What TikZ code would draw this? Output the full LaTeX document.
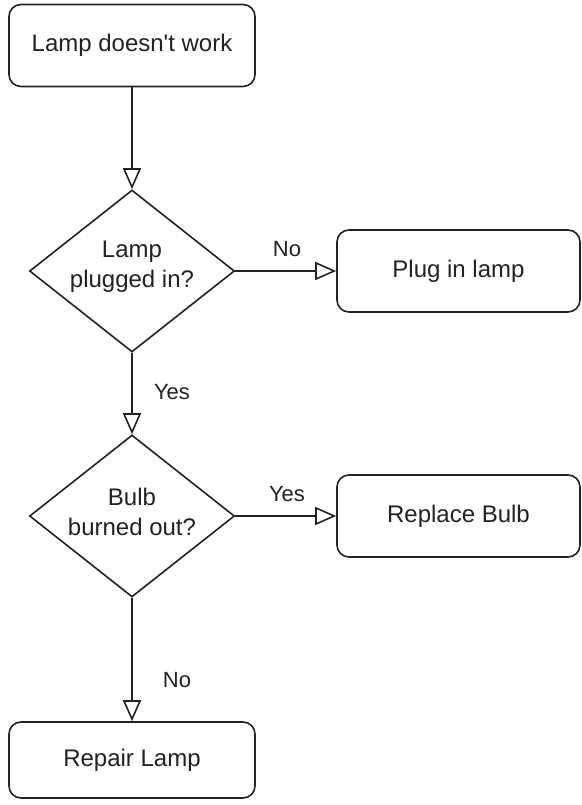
\documentclass[tikz,border=0pt]{standalone}
\usepackage{fontspec}
% a family without TeX ligatures keeps the apostrophe straight
\newfontfamily\plainsans{Liberation Sans}
\usetikzlibrary{shapes.geometric,arrows.meta}
\definecolor{ink}{HTML}{222222}
\begin{document}
\begin{tikzpicture}[x=1pt,y=-1pt,
  every node/.style={text=ink},
  procbox/.style={draw=ink, line width=1.6pt, rounded corners=12pt, inner sep=0pt,
    minimum width=246pt, minimum height=82pt, font=\plainsans\fontsize{24}{29}\selectfont},
  decision/.style={draw=ink, line width=1.6pt, diamond, inner sep=0pt,
    minimum width=205pt, minimum height=162pt},
  qtext/.style={align=center, font=\plainsans\fontsize{24}{30}\selectfont},
  edgelabel/.style={font=\plainsans\fontsize{22}{26}\selectfont},
  flow/.style={draw=ink, line width=1.6pt,
    -{Triangle[open, length=21pt, width=18pt, fill=white]}}]
  % page area
  \path[use as bounding box, fill=white] (0,0) rectangle (581,805);

  % boxes and decisions
  \node[procbox] (start) at (132,45.5) {Lamp doesn't work};
  \node[decision] (plugged) at (132,271) {};
  \node[qtext] (pluggedtxt) at (132,267) {Lamp\\plugged in?};
  \node[procbox, minimum width=243pt] (plugin) at (458.5,271) {Plug in lamp};
  \node[decision] (bulb) at (132,516) {};
  \node[qtext] (bulbtxt) at (132,512) {Bulb\\burned out?};
  \node[procbox, minimum width=243pt] (replace) at (458.5,516) {Replace Bulb};
  \node[procbox, minimum height=76pt] (repair) at (132,760) {Repair Lamp};

  % connectors and their labels
  \draw[flow] (start.south) -- (plugged.north);
  \draw[flow] (plugged.east) -- (plugin.west);
  \node[edgelabel] (no1) at (287,249) {No};
  \draw[flow] (plugged.south) -- (bulb.north);
  \node[edgelabel] (yes1) at (172,392) {Yes};
  \draw[flow] (bulb.east) -- (replace.west);
  \node[edgelabel] (yes2) at (287,494) {Yes};
  \draw[flow] (bulb.south) -- (repair.north);
  \node[edgelabel] (no2) at (177,680) {No};
\end{tikzpicture}
\end{document}
